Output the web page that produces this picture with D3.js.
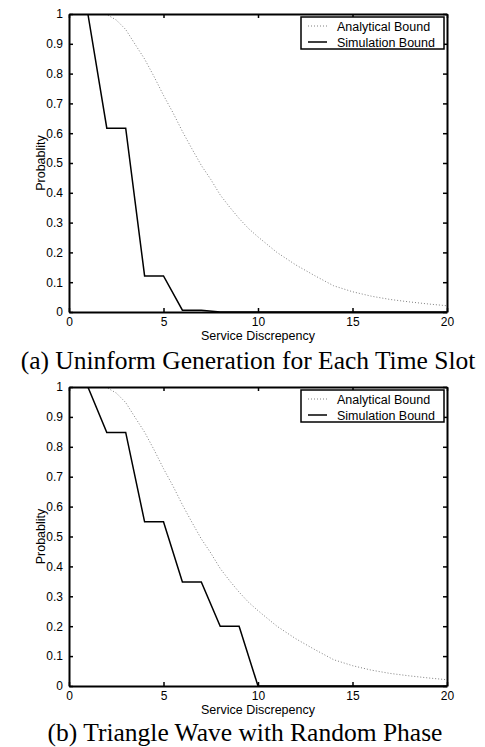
<!DOCTYPE html>
<html>
<head>
<meta charset="utf-8">
<script src="https://cdn.jsdelivr.net/npm/d3@7"></script>
<style>
  body { margin: 0; background: #fff; }
  svg { display: block; }
</style>
</head>
<body>
<div id="chart"></div>
<script>
// values
const xTicks = [0, 5, 10, 15, 20];
const yTicks = [0, 0.1, 0.2, 0.3, 0.4, 0.5, 0.6, 0.7, 0.8, 0.9, 1];

const analyticX = [0, 1, 2, 2.5, 3, 3.5, 4, 4.5, 5, 5.5, 6, 6.5, 7, 7.5, 8, 8.5, 9, 9.5, 10, 11, 12, 13, 14, 15, 16, 17, 18, 19, 20];
const analyticY = [1, 1, 0.998, 0.98, 0.948, 0.898, 0.849, 0.79, 0.727, 0.669, 0.606, 0.548, 0.492, 0.445, 0.393, 0.352, 0.314, 0.28, 0.252, 0.2, 0.158, 0.122, 0.088, 0.068, 0.053, 0.042, 0.034, 0.027, 0.021];

const simAX = [0, 1, 2, 3, 4, 5, 6, 7, 8, 20];
const simAY = [1, 1, 0.617, 0.617, 0.121, 0.121, 0.006, 0.006, 0, 0];

const simBX = [0, 1, 2, 3, 4, 5, 6, 7, 8, 9, 10, 20];
const simBY = [1, 1, 0.848, 0.848, 0.549, 0.549, 0.348, 0.348, 0.2, 0.2, 0, 0];

const legendLabels = ['Analytical Bound', 'Simulation Bound'];
const captions = ['(a) Uninform Generation for Each Time Slot', '(b) Triangle Wave with Random Phase'];

const width = 485;
const height = 747;
const sans = 'Arial, "Liberation Sans", Helvetica, sans-serif';
const serif = '"Times New Roman", "Liberation Serif", Times, serif';

const svg = d3.select('#chart')
    .append('svg')
    .attr('width', width)
    .attr('height', height);

const xScale = d3.scaleLinear().domain([0, 20]).range([69, 447]);

function drawPanel(top, bottom, simX, simY, caption, capY, idx) {
    const yScale = d3.scaleLinear().domain([0, 1]).range([bottom, top]);
    const g = svg.append('g');

    g.append('clipPath').attr('id', 'clip' + idx)
        .append('rect')
        .attr('x', xScale(0)).attr('y', top)
        .attr('width', xScale(20) - xScale(0))
        .attr('height', bottom - top);

    const line = d3.line()
        .x(d => xScale(d[0]))
        .y(d => yScale(d[1]));

    // analytical bound (dotted)
    g.append('path')
        .datum(analyticX.map((x, i) => [x, analyticY[i]]))
        .attr('d', line)
        .attr('clip-path', 'url(#clip' + idx + ')')
        .attr('fill', 'none')
        .attr('stroke', '#808080')
        .attr('stroke-width', 1)
        .attr('stroke-dasharray', '1,2');

    // simulation bound
    g.append('path')
        .datum(simX.map((x, i) => [x, simY[i]]))
        .attr('d', line)
        .attr('clip-path', 'url(#clip' + idx + ')')
        .attr('fill', 'none')
        .attr('stroke', '#000')
        .attr('stroke-width', 1.5);

    // axes, ticks inward on all four sides
    const axB = g.append('g')
        .attr('transform', `translate(0,${bottom})`)
        .call(d3.axisBottom(xScale).tickValues(xTicks).tickSizeInner(-4).tickSizeOuter(0).tickPadding(5));
    const axT = g.append('g')
        .attr('transform', `translate(0,${top})`)
        .call(d3.axisTop(xScale).tickValues(xTicks).tickSizeInner(-4).tickSizeOuter(0).tickFormat(''));
    const axL = g.append('g')
        .attr('transform', `translate(${xScale(0)},0)`)
        .call(d3.axisLeft(yScale).tickValues(yTicks).tickSizeInner(-4).tickSizeOuter(0).tickPadding(6)
            .tickFormat(d3.format('~g')));
    const axR = g.append('g')
        .attr('transform', `translate(${xScale(20)},0)`)
        .call(d3.axisRight(yScale).tickValues(yTicks).tickSizeInner(-4).tickSizeOuter(0).tickFormat(''));

    [axB, axT, axL, axR].forEach(a => {
        a.select('.domain').attr('stroke', '#000').attr('stroke-width', 2);
        a.selectAll('.tick line').attr('stroke', '#000').attr('stroke-width', 1.5);
        a.selectAll('text').attr('font-family', sans).attr('font-size', 12).attr('fill', '#000');
    });

    // axis titles
    g.append('text')
        .attr('x', (xScale(0) + xScale(20)) / 2)
        .attr('y', bottom + 28)
        .attr('text-anchor', 'middle')
        .attr('font-family', sans)
        .attr('font-size', 12.5)
        .text('Service Discrepency');

    g.append('text')
        .attr('transform', `translate(45,${(top + bottom) / 2}) rotate(-90)`)
        .attr('text-anchor', 'middle')
        .attr('font-family', sans)
        .attr('font-size', 12.5)
        .text('Probablity');

    // legend
    const lg = g.append('g').attr('transform', `translate(301,${top + 3})`);
    lg.append('rect')
        .attr('width', 143).attr('height', 32)
        .attr('fill', '#fff')
        .attr('stroke', '#000')
        .attr('stroke-width', 1.5);
    legendLabels.forEach((lab, i) => {
        const yy = 9 + i * 16;
        lg.append('line')
            .attr('x1', 7).attr('x2', 26)
            .attr('y1', yy).attr('y2', yy)
            .attr('stroke', i === 0 ? '#808080' : '#000')
            .attr('stroke-width', i === 0 ? 1 : 1.5)
            .attr('stroke-dasharray', i === 0 ? '1,2' : null);
        lg.append('text')
            .attr('x', 36).attr('y', yy + 4.5)
            .attr('font-family', sans)
            .attr('font-size', 12.5)
            .text(lab);
    });

    // caption
    g.append('text')
        .attr('x', idx === 0 ? 248 : 245)
        .attr('y', capY)
        .attr('text-anchor', 'middle')
        .attr('font-family', serif)
        .attr('font-size', 25.5)
        .text(caption);
}

drawPanel(14, 312, simAX, simAY, captions[0], 369, 0);
drawPanel(387, 686, simBX, simBY, captions[1], 741, 1);
</script>
</body>
</html>
